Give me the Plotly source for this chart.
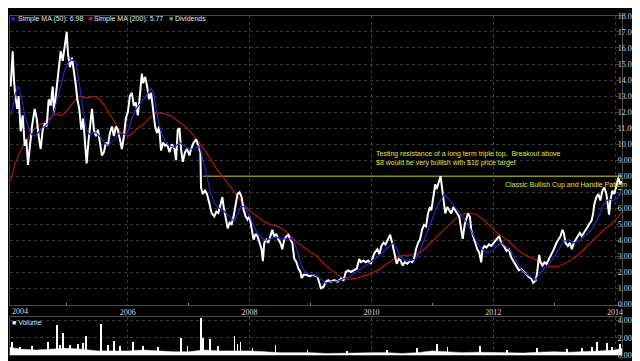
import pandas as pd
import plotly.graph_objects as go

# ---------------- data (decimal years / values) ----------------
price_t = [2004.077, 2004.110, 2004.131, 2004.153, 2004.185, 2004.208, 2004.241, 2004.274, 2004.307, 2004.333,
           2004.361, 2004.394, 2004.426, 2004.471, 2004.503, 2004.536, 2004.569, 2004.602, 2004.635, 2004.667,
           2004.700, 2004.733, 2004.766, 2004.787, 2004.831, 2004.864, 2004.897, 2004.930, 2004.962, 2004.995,
           2005.017, 2005.049, 2005.082, 2005.115, 2005.148, 2005.169, 2005.202, 2005.235, 2005.267, 2005.300,
           2005.323, 2005.356, 2005.389, 2005.410, 2005.443, 2005.476, 2005.508, 2005.541, 2005.574, 2005.607,
           2005.639, 2005.672, 2005.705, 2005.738, 2005.771, 2005.803, 2005.836, 2005.869, 2005.902, 2005.935,
           2005.967, 2006.000, 2006.033, 2006.066, 2006.098, 2006.131, 2006.164, 2006.197, 2006.230, 2006.251,
           2006.284, 2006.317, 2006.349, 2006.382, 2006.415, 2006.448, 2006.480, 2006.513, 2006.546, 2006.579,
           2006.612, 2006.644, 2006.684, 2006.722, 2006.766, 2006.792, 2006.820, 2006.848, 2006.874, 2006.902,
           2006.940, 2006.972, 2007.012, 2007.038, 2007.082, 2007.120, 2007.159, 2007.192, 2007.202, 2007.230,
           2007.267, 2007.300, 2007.340, 2007.377, 2007.421, 2007.454, 2007.487, 2007.520, 2007.553, 2007.574,
           2007.607, 2007.640, 2007.672, 2007.705, 2007.738, 2007.771, 2007.803, 2007.836, 2007.869, 2007.902,
           2007.935, 2007.967, 2008.000, 2008.033, 2008.066, 2008.098, 2008.131, 2008.164, 2008.197, 2008.218,
           2008.241, 2008.274, 2008.307, 2008.340, 2008.372, 2008.405, 2008.438, 2008.471, 2008.504, 2008.536,
           2008.569, 2008.602, 2008.635, 2008.667, 2008.700, 2008.733, 2008.766, 2008.799, 2008.832, 2008.853,
           2008.886, 2008.930, 2008.984, 2009.038, 2009.115, 2009.169, 2009.213, 2009.251, 2009.290, 2009.333,
           2009.389, 2009.443, 2009.497, 2009.541, 2009.579, 2009.618, 2009.661, 2009.705, 2009.759, 2009.798,
           2009.825, 2009.869, 2009.907, 2009.946, 2009.989, 2010.022, 2010.054, 2010.098, 2010.131, 2010.164,
           2010.197, 2010.230, 2010.262, 2010.307, 2010.340, 2010.361, 2010.382, 2010.415, 2010.448, 2010.480,
           2010.513, 2010.546, 2010.590, 2010.635, 2010.667, 2010.700, 2010.733, 2010.766, 2010.798, 2010.831,
           2010.864, 2010.897, 2010.930, 2010.962, 2010.984, 2011.017, 2011.049, 2011.071, 2011.104, 2011.136,
           2011.159, 2011.180, 2011.213, 2011.246, 2011.279, 2011.312, 2011.344, 2011.377, 2011.410, 2011.443,
           2011.476, 2011.500, 2011.533, 2011.586, 2011.618, 2011.640, 2011.672, 2011.710, 2011.738, 2011.771,
           2011.804, 2011.825, 2011.858, 2011.891, 2011.930, 2011.968, 2012.012, 2012.054, 2012.099, 2012.131,
           2012.176, 2012.218, 2012.257, 2012.295, 2012.340, 2012.382, 2012.421, 2012.459, 2012.504, 2012.546,
           2012.585, 2012.623, 2012.656, 2012.700, 2012.722, 2012.754, 2012.776, 2012.808, 2012.841, 2012.874,
           2012.913, 2012.951, 2012.995, 2013.038, 2013.071, 2013.104, 2013.136, 2013.159, 2013.185, 2013.225,
           2013.257, 2013.290, 2013.323, 2013.356, 2013.389, 2013.421, 2013.454, 2013.487, 2013.520, 2013.553,
           2013.585, 2013.618, 2013.640, 2013.661, 2013.694, 2013.726, 2013.759, 2013.792, 2013.825, 2013.858,
           2013.880, 2013.902, 2013.923, 2013.956, 2013.989, 2014.022, 2014.054, 2014.087, 2014.110]
price_v = [13.6, 15.8, 14.0, 13.0, 12.2, 13.0, 10.8, 11.8, 9.9, 10.3,
           8.7, 9.9, 11.1, 12.2, 11.6, 10.5, 9.7, 10.9, 11.3, 11.1,
           12.8, 12.4, 13.6, 12.0, 13.4, 14.6, 15.8, 15.2, 16.2, 17.0,
           15.6, 14.8, 15.4, 14.6, 13.6, 12.8, 12.2, 10.9, 11.6, 9.9,
           8.8, 10.3, 11.6, 12.2, 10.9, 10.5, 10.9, 10.1, 9.3, 9.5,
           10.1, 9.9, 10.7, 11.1, 10.5, 11.1, 10.9, 10.3, 9.7, 10.5,
           11.6, 12.0, 13.0, 13.2, 12.4, 12.6, 11.8, 13.0, 14.4, 13.8,
           14.2, 13.6, 12.8, 13.2, 12.0, 11.1, 10.7, 11.1, 9.6, 10.1,
           9.9, 10.0, 9.5, 10.0, 9.7, 9.0, 10.9, 11.0, 9.7, 8.9,
           9.5, 9.7, 9.3, 9.7, 10.1, 10.3, 9.9, 9.5, 7.3, 6.9,
           7.1, 6.9, 6.3, 5.7, 5.5, 5.8, 5.7, 6.3, 6.7, 6.1,
           5.3, 4.75, 5.1, 5.0, 5.5, 6.3, 6.9, 7.0, 6.7, 5.9,
           5.5, 5.3, 5.5, 4.75, 4.05, 4.4, 4.25, 3.85, 3.45, 2.7,
           3.85, 4.05, 3.85, 4.25, 4.66, 4.25, 4.4, 4.05, 3.85, 3.45,
           4.05, 4.25, 4.35, 4.05, 3.85, 2.85, 2.65, 2.25, 2.05, 1.65,
           1.85, 1.85, 1.75, 1.85, 1.72, 1.01, 1.11, 1.42, 1.52, 1.42,
           1.52, 1.42, 1.62, 1.52, 2.03, 2.13, 2.03, 2.13, 2.23, 2.84,
           2.64, 2.74, 2.64, 2.74, 2.54, 2.94, 3.24, 3.45, 3.14, 3.65,
           3.85, 3.75, 4.05, 4.35, 3.85, 3.45, 2.94, 2.54, 2.84, 2.74,
           2.43, 2.64, 2.54, 2.74, 2.64, 2.84, 3.45, 3.85, 4.05, 4.66,
           4.97, 4.87, 5.68, 6.08, 5.88, 6.89, 7.5, 7.2, 7.7, 8.0,
           7.3, 6.7, 5.68, 6.08, 5.88, 5.68, 6.08, 5.88, 5.68, 5.47,
           4.66, 4.1, 5.0, 5.68, 5.47, 4.66, 4.26, 3.85, 3.45, 3.24,
           2.63, 3.45, 3.65, 3.55, 3.75, 3.65, 3.85, 4.05, 4.26, 3.85,
           3.65, 3.34, 3.45, 2.94, 2.63, 2.43, 2.13, 2.23, 2.03, 1.83,
           1.72, 1.62, 1.35, 1.52, 2.03, 3.1, 2.63, 2.43, 2.63, 2.53,
           2.84, 3.04, 3.45, 3.85, 4.05, 4.26, 4.66, 4.46, 3.85, 3.65,
           3.85, 3.45, 3.85, 4.05, 4.26, 4.46, 4.26, 4.46, 4.66, 4.87,
           5.07, 5.27, 5.68, 6.28, 6.69, 6.89, 6.49, 7.1, 7.3, 6.89,
           6.28, 5.6, 6.49, 7.1, 6.89, 7.5, 7.9, 7.5, 7.7]

ma50_t = [2004.087, 2004.143, 2004.197, 2004.251, 2004.307, 2004.361, 2004.415, 2004.471, 2004.525, 2004.579,
          2004.635, 2004.689, 2004.743, 2004.799, 2004.853, 2004.907, 2004.962, 2005.017, 2005.098, 2005.153,
          2005.208, 2005.262, 2005.317, 2005.372, 2005.426, 2005.480, 2005.536, 2005.618, 2005.672, 2005.726,
          2005.782, 2005.836, 2005.890, 2005.946, 2005.989, 2006.028, 2006.082, 2006.136, 2006.218, 2006.300,
          2006.382, 2006.426, 2006.464, 2006.520, 2006.574, 2006.628, 2006.684, 2006.766, 2006.848, 2006.930,
          2007.012, 2007.094, 2007.148, 2007.192, 2007.258, 2007.312, 2007.366, 2007.422, 2007.504, 2007.586,
          2007.667, 2007.749, 2007.803, 2007.858, 2007.923, 2007.979, 2008.049, 2008.120, 2008.185, 2008.267,
          2008.349, 2008.431, 2008.513, 2008.595, 2008.677, 2008.733, 2008.787, 2008.841, 2008.897, 2008.979,
          2009.061, 2009.169, 2009.251, 2009.333, 2009.443, 2009.553, 2009.635, 2009.717, 2009.798, 2009.907,
          2010.017, 2010.126, 2010.235, 2010.317, 2010.361, 2010.415, 2010.480, 2010.563, 2010.645, 2010.727,
          2010.808, 2010.890, 2010.972, 2011.054, 2011.136, 2011.192, 2011.246, 2011.328, 2011.410, 2011.492,
          2011.574, 2011.656, 2011.738, 2011.820, 2011.902, 2011.984, 2012.066, 2012.120, 2012.202, 2012.284,
          2012.366, 2012.448, 2012.530, 2012.612, 2012.694, 2012.749, 2012.831, 2012.913, 2012.995, 2013.077,
          2013.159, 2013.241, 2013.323, 2013.405, 2013.487, 2013.569, 2013.651, 2013.733, 2013.815, 2013.897,
          2013.979, 2014.033, 2014.110]
ma50_v = [11.8, 13.0, 13.6, 13.0, 11.8, 11.1, 10.6, 10.5, 10.7, 11.0,
          11.1, 11.3, 11.6, 12.2, 13.0, 13.8, 14.6, 15.1, 15.3, 15.0,
          13.6, 12.2, 10.9, 10.6, 10.7, 10.7, 10.5, 10.1, 9.9, 10.1,
          10.3, 10.6, 10.7, 10.6, 10.7, 11.1, 11.8, 12.2, 12.6, 13.0,
          13.5, 13.2, 12.2, 11.1, 10.5, 10.1, 9.9, 9.8, 10.1, 9.9,
          9.7, 9.7, 9.9, 9.7, 8.7, 7.9, 6.9, 6.3, 6.0, 5.8,
          5.5, 5.2, 5.7, 6.1, 6.1, 5.7, 5.1, 4.5, 4.2, 4.0,
          4.1, 4.2, 4.1, 4.1, 4.1, 3.9, 3.3, 2.5, 2.1, 1.9,
          1.85, 1.62, 1.32, 1.42, 1.46, 1.62, 1.72, 1.93, 2.13, 2.43,
          2.74, 3.04, 3.45, 3.75, 3.85, 3.45, 2.94, 2.74, 2.74, 2.84,
          3.45, 4.26, 5.07, 5.88, 6.49, 6.89, 6.69, 6.28, 5.85, 5.47,
          5.07, 4.46, 3.85, 3.45, 3.24, 3.34, 3.65, 3.85, 3.65, 3.34,
          2.84, 2.23, 1.93, 1.72, 1.52, 1.83, 2.23, 2.53, 2.94, 3.45,
          3.95, 4.05, 3.85, 3.95, 4.26, 4.46, 4.87, 5.47, 6.28, 6.59,
          6.49, 6.59, 6.98]

ma200_t = [2004.077, 2004.143, 2004.225, 2004.307, 2004.389, 2004.471, 2004.553, 2004.635, 2004.717, 2004.799,
           2004.880, 2004.962, 2005.044, 2005.126, 2005.208, 2005.290, 2005.372, 2005.454, 2005.536, 2005.618,
           2005.700, 2005.782, 2005.864, 2005.946, 2006.012, 2006.082, 2006.164, 2006.246, 2006.328, 2006.410,
           2006.492, 2006.602, 2006.710, 2006.820, 2006.930, 2007.038, 2007.120, 2007.202, 2007.284, 2007.366,
           2007.448, 2007.530, 2007.612, 2007.694, 2007.776, 2007.858, 2007.940, 2008.022, 2008.131, 2008.241,
           2008.349, 2008.459, 2008.569, 2008.677, 2008.787, 2008.897, 2009.005, 2009.103, 2009.169, 2009.279,
           2009.389, 2009.497, 2009.579, 2009.661, 2009.771, 2009.880, 2009.989, 2010.098, 2010.208, 2010.317,
           2010.426, 2010.536, 2010.645, 2010.754, 2010.836, 2010.918, 2011.000, 2011.082, 2011.164, 2011.246,
           2011.328, 2011.410, 2011.492, 2011.623, 2011.738, 2011.847, 2011.956, 2012.066, 2012.176, 2012.284,
           2012.394, 2012.504, 2012.612, 2012.722, 2012.831, 2012.940, 2013.049, 2013.159, 2013.267, 2013.377,
           2013.487, 2013.595, 2013.705, 2013.815, 2013.923, 2014.033, 2014.110]
ma200_v = [7.7, 8.7, 9.5, 10.1, 10.6, 11.0, 11.2, 11.4, 11.6, 11.9,
           11.8, 11.9, 12.3, 12.7, 13.0, 12.9, 12.9, 13.0, 12.8, 12.4,
           11.9, 11.4, 10.8, 10.6, 10.5, 10.7, 11.0, 11.2, 11.5, 11.8,
           11.95, 11.9, 11.76, 11.46, 11.15, 10.75, 10.34, 9.93, 9.53, 9.02,
           8.52, 8.11, 7.71, 7.30, 6.89, 6.49, 6.08, 5.78, 5.47, 5.17,
           4.97, 4.87, 4.66, 4.26, 3.85, 3.55, 3.24, 3.04, 2.74, 2.33,
           2.03, 1.72, 1.58, 1.58, 1.66, 1.78, 1.93, 2.13, 2.43, 2.74,
           2.98, 3.08, 3.08, 3.14, 3.34, 3.65, 3.95, 4.26, 4.56, 4.87,
           5.17, 5.45, 5.62, 5.72, 5.58, 5.27, 4.87, 4.46, 4.16, 3.85,
           3.45, 3.14, 2.94, 2.74, 2.53, 2.37, 2.37, 2.53, 2.74, 3.04,
           3.45, 3.85, 4.26, 4.66, 4.97, 5.37, 5.77]

vol_base_t = [2004.066, 2004.25, 2004.5, 2004.75, 2005.0, 2005.25, 2005.5, 2005.75, 2006.0, 2006.25,
              2006.5, 2006.75, 2007.0, 2007.25, 2007.5, 2007.75, 2008.0, 2008.25, 2008.5, 2008.75,
              2009.0, 2009.25, 2009.5, 2009.75, 2010.0, 2010.25, 2010.5, 2010.75, 2011.0, 2011.25,
              2011.5, 2011.75, 2012.0, 2012.25, 2012.5, 2012.75, 2013.0, 2013.25, 2013.5, 2013.75,
              2014.0, 2014.115]
vol_base_v = [0.9, 0.7, 0.6, 0.7, 0.8, 0.7, 0.5, 0.5, 0.5, 0.6,
              0.5, 0.4, 0.4, 0.6, 0.5, 0.5, 0.5, 0.4, 0.3, 0.3,
              0.3, 0.2, 0.2, 0.25, 0.3, 0.3, 0.2, 0.3, 0.5, 0.4,
              0.3, 0.35, 0.3, 0.25, 0.25, 0.35, 0.4, 0.35, 0.4, 0.5,
              0.6, 0.8]
vol_spike_t = [2004.10, 2004.23, 2004.43, 2004.69, 2004.836, 2004.885, 2004.935, 2005.05, 2005.18, 2005.26,
               2005.312, 2005.558, 2005.67, 2005.771, 2005.87, 2006.082, 2006.25, 2006.49, 2006.869, 2006.98,
               2007.197, 2007.23, 2007.345, 2007.48, 2007.750, 2007.80, 2007.85, 2008.05, 2008.426, 2008.95,
               2009.6, 2010.26, 2010.75, 2011.082, 2011.25, 2011.787, 2012.23, 2012.72, 2013.21, 2013.46,
               2013.62, 2013.705, 2013.869, 2013.95, 2014.082]
vol_spike_v = [1.5, 0.9, 1.1, 1.55, 3.46, 1.2, 2.6, 1.2, 1.3, 1.4,
               2.2, 3.6, 1.2, 1.6, 1.1, 1.5, 1.0, 0.9, 2.0, 1.0,
               4.3, 2.0, 1.9, 1.0, 2.2, 1.3, 1.5, 0.8, 1.2, 0.6,
               0.5, 0.6, 0.8, 1.3, 0.9, 1.0, 0.6, 0.8, 0.7, 0.8,
               0.9, 1.5, 1.4, 0.9, 1.3]

resistance_level = 8.0
resistance_start = 2007.246
x_start, x_end = 2004.066, 2014.115
year_ticks = [2006, 2008, 2010, 2012, 2014]
minor_years = [2005, 2007, 2009, 2011, 2013]
price_ticks = list(range(0, 19))
vol_ticks = [0, 2, 4]
vol_tick_text = ["0.00", "2.00m", "4.00m"]


def yr(t):
    y = int(t)
    a = pd.Timestamp(y, 1, 1)
    b = pd.Timestamp(y + 1, 1, 1)
    return a + (b - a) * (t - y)


def dates(ts):
    return [yr(t) for t in ts]


GRID = "#3a3a3a"
LINE = "#4a4a4a"
TICKFONT = dict(family="Liberation Serif", size=8, color="#d8d8d8")
SANS = "Liberation Sans"
YEL = "#e2e23c"

fig = go.Figure()
fig.add_trace(go.Scatter(x=dates(vol_base_t), y=vol_base_v, mode="lines", fill="tozeroy",
                         line=dict(color="white", width=0.5), fillcolor="white",
                         xaxis="x2", yaxis="y2", name="Volume"))
fig.add_trace(go.Bar(x=dates(vol_spike_t), y=vol_spike_v, marker=dict(color="white", line=dict(width=0)),
                     width=86400000 * 4, xaxis="x2", yaxis="y2", name="Volume spikes"))
fig.add_trace(go.Scatter(x=dates([resistance_start, x_end]), y=[resistance_level] * 2, mode="lines",
                         line=dict(color="#8c8c1e", width=1.5), name="Resistance"))
fig.add_trace(go.Scatter(x=dates(ma200_t), y=ma200_v, mode="lines", line=dict(color="#b41414", width=1.2),
                         name="Simple MA (200)"))
fig.add_trace(go.Scatter(x=dates(price_t), y=price_v, mode="lines", line=dict(color="white", width=2.0),
                         name="Price"))
fig.add_trace(go.Scatter(x=dates(ma50_t), y=ma50_v, mode="lines", line=dict(color="#2424c8", width=1.2),
                         name="Simple MA (50)"))

xdom = [2 / 640, 615 / 640]
common_x = dict(domain=xdom, range=[yr(x_start), yr(x_end)], tickvals=dates(year_ticks),
                ticktext=[str(y) for y in year_ticks], showgrid=True, gridcolor=GRID, griddash="dot",
                gridwidth=1, showline=True, mirror=True, linecolor=LINE, zeroline=False, ticks="",
                tickfont=TICKFONT)

fig.update_layout(
    width=640, height=361, margin=dict(l=0, r=0, t=0, b=0),
    paper_bgcolor="black", plot_bgcolor="black", showlegend=False,
    xaxis=dict(**common_x, anchor="y",
               minor=dict(tickvals=dates(minor_years), ticks="inside", ticklen=2, tickcolor="#888", showgrid=False)),
    yaxis=dict(domain=[61 / 361, 357 / 361], range=[0, 18], side="right", tickvals=price_ticks,
               tickformat=".2f", showgrid=True, gridcolor=GRID, griddash="dot", showline=True, mirror=True,
               linecolor=LINE, zeroline=False, tickfont=TICKFONT, ticks="", ticklabelstandoff=-7),
    xaxis2=dict(**common_x, anchor="y2", matches="x", showticklabels=False),
    yaxis2=dict(domain=[9 / 361, 48 / 361], range=[0, 4.4], side="right", tickvals=vol_ticks,
                ticktext=vol_tick_text, showgrid=True, gridcolor=GRID, griddash="dot", showline=True,
                mirror=True, linecolor=LINE, zeroline=False, tickfont=TICKFONT, ticks="", ticklabelstandoff=-7),
    bargap=0,
)

ann = []
# legend
legend_items = [("■", "#2020ff", 1 / 640), ("Simple MA (50): 6.98", "#e6e6e6", 8 / 640),
                ("■", "#e01010", 78 / 640), ("Simple MA (200): 5.77", "#e6e6e6", 84 / 640),
                ("■", "#30b040", 159 / 640), ("Dividends", "#e6e6e6", 165 / 640)]
for txt, col, xp in legend_items:
    ann.append(dict(text=txt, x=xp, y=1 - 7 / 361, xref="paper", yref="paper", xanchor="left",
                    yanchor="middle", showarrow=False, font=dict(family=SANS, size=7, color=col)))
ann.append(dict(text="■ Volume", x=2 / 640, y=1 - 318 / 361, xref="paper", yref="paper", xanchor="left",
                yanchor="middle", showarrow=False, font=dict(family=SANS, size=7, color="#e6e6e6")))
ann.append(dict(text="2004", x=2 / 640, y=1 - 307 / 361, xref="paper", yref="paper", xanchor="left",
                yanchor="middle", showarrow=False, font=TICKFONT))
ann.append(dict(text="Testing resistance of a long term triple top.  Breakout above<br>$8 would be very bullish with $16 price target",
                x=yr(2010.05), y=9.12, xref="x", yref="y", xanchor="left", yanchor="middle", align="left",
                showarrow=False, font=dict(family=SANS, size=7, color=YEL)))
ann.append(dict(text="Classic Bullish Cup and Handle Pattern", x=yr(2012.164), y=7.48, xref="x", yref="y",
                xanchor="left", yanchor="middle", showarrow=False, font=dict(family=SANS, size=7, color=YEL)))
fig.update_layout(annotations=ann)

fig.write_html("out.html")
